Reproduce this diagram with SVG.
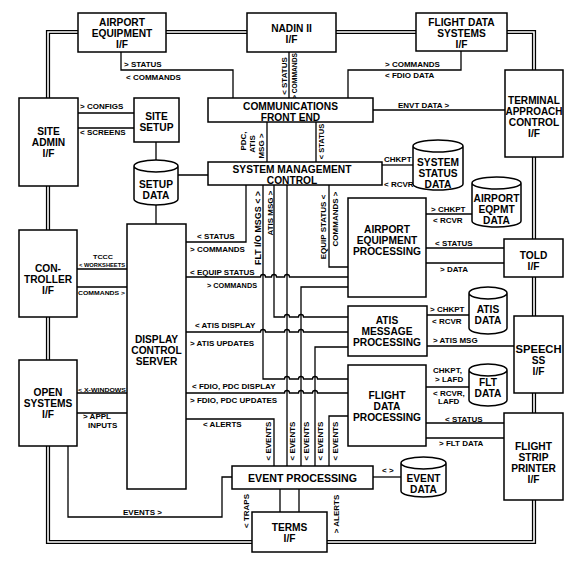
<svg xmlns="http://www.w3.org/2000/svg" width="580" height="561" viewBox="0 0 580 561">
<style>
.bx{fill:#fff;stroke:#000;stroke-width:1.5}
.ln{fill:none;stroke:#000;stroke-width:1.3}
.b1{fill:none;stroke:#000;stroke-width:4.2}
.b2{fill:none;stroke:#fff;stroke-width:1.6}
text{font-family:'Liberation Sans',Arial,Helvetica,sans-serif;font-weight:bold;fill:#000}
.t{font-size:10.2px;text-anchor:middle}
.l{font-size:8px}
.v{font-size:8px;text-anchor:middle}
.s{font-size:6px}
</style>
<rect width="580" height="561" fill="#fff"/>
<g id="border">
<path class="b1" d="M48 32 H534 V542 H48 Z"/>
<path class="b2" d="M48 32 H534 V542 H48 Z"/>
</g>
<g id="connectors">
<path class="ln" d="M121 52 V70 H233 V98"/>
<path class="ln" d="M289 52 V98"/>
<path class="ln" d="M461 51 V70 H348 V98"/>
<path class="ln" d="M373 110 H505"/>
<path class="ln" d="M267 122 V162 M316 122 V162"/>
<path class="ln" d="M78 113 H134 M78 128 H134"/>
<path class="ln" d="M156 142 V160 M178 175 H208 M156 205 V224"/>
<path class="ln" d="M382 165 H413"/>
<path class="ln" d="M426 214 H472"/>
<path class="ln" d="M426 248 H504 M426 263 H504"/>
<path class="ln" d="M427 315 H469 M427 346 H514"/>
<path class="ln" d="M426 387 H469"/>
<path class="ln" d="M426 423 H504 M426 438 H504"/>
<path class="ln" d="M373 477 H401"/>
<path class="ln" d="M280 489 V512 M299 489 V512"/>
<path class="ln" d="M77 269 H127 M77 287 H127"/>
<path class="ln" d="M77 393 H127 M77 413 H127"/>
<path class="ln" d="M68 446 V517 H222 V477 H232"/>
<path class="ln" d="M246 185 V242 H186"/>
<path class="ln" d="M186 277 H260.5 A2.5 2.5 0 0 1 265.5 277 H271.5 A2.5 2.5 0 0 1 276.5 277 H284.5 A2.5 2.5 0 0 1 289.5 277 H348"/>
<path class="ln" d="M263 185 V379 H284.5 A2.5 2.5 0 0 1 289.5 379 H298.5 A2.5 2.5 0 0 1 303.5 379 H312.5 A2.5 2.5 0 0 1 317.5 379 H348"/>
<path class="ln" d="M274 185 V317 H284.5 A2.5 2.5 0 0 1 289.5 317 H298.5 A2.5 2.5 0 0 1 303.5 317 H348"/>
<path class="ln" d="M287 185 V466"/>
<path class="ln" d="M329 185 V267 H348"/>
<path class="ln" d="M348 287 H301 V466"/>
<path class="ln" d="M186 332 H260.5 A2.5 2.5 0 0 1 265.5 332 H284.5 A2.5 2.5 0 0 1 289.5 332 H298.5 A2.5 2.5 0 0 1 303.5 332 H348"/>
<path class="ln" d="M348 347 H315 V466"/>
<path class="ln" d="M186 393 H284.5 A2.5 2.5 0 0 1 289.5 393 H298.5 A2.5 2.5 0 0 1 303.5 393 H312.5 A2.5 2.5 0 0 1 317.5 393 H348"/>
<path class="ln" d="M348 416 H329 V466"/>
<path class="ln" d="M186 419 H274 V466"/>
</g>
<g id="connector-labels">
<text class="l" x="124" y="67">&gt; STATUS</text>
<text class="l" x="126" y="80">&lt; COMMANDS</text>
<text class="l" x="385" y="67">&gt; COMMANDS</text>
<text class="l" x="385" y="77.5">&lt; FDIO DATA</text>
<text class="l" x="398" y="108">ENVT DATA &gt;</text>
<text class="l" x="80" y="109">&gt; CONFIGS</text>
<text class="l" x="80" y="135">&lt; SCREENS</text>
<text class="l" x="384" y="162">CHKPT &gt;</text>
<text class="l" x="384" y="187">&lt; RCVR</text>
<text class="l" x="431" y="212">&gt; CHKPT</text>
<text class="l" x="433" y="223">&lt; RCVR</text>
<text class="l" x="435" y="246">&lt; STATUS</text>
<text class="l" x="440" y="272">&gt; DATA</text>
<text class="l" x="430" y="312">&gt; CHKPT</text>
<text class="l" x="432" y="324">&lt; RCVR</text>
<text class="l" x="433" y="343">&gt; ATIS MSG</text>
<text class="l" x="433" y="373">CHKPT,</text>
<text class="l" x="435" y="382">&gt; LAFD</text>
<text class="l" x="433" y="396">&lt; RCVR,</text>
<text class="l" x="438" y="404">LAFD</text>
<text class="l" x="445" y="422">&lt; STATUS</text>
<text class="l" x="439" y="446">&gt; FLT DATA</text>
<text class="l" x="382" y="473">&lt; &gt;</text>
<text class="l" x="197" y="239">&lt; STATUS</text>
<text class="l" x="190" y="252">&gt; COMMANDS</text>
<text class="l" x="190" y="275">&lt; EQUIP STATUS</text>
<text class="l" x="207" y="288" textLength="50" lengthAdjust="spacingAndGlyphs">&gt; COMMANDS</text>
<text class="l" x="195" y="328">&lt; ATIS DISPLAY</text>
<text class="l" x="190" y="346">&gt; ATIS UPDATES</text>
<text class="l" x="192" y="389">&lt; FDIO, PDC DISPLAY</text>
<text class="l" x="190" y="403">&gt; FDIO, PDC UPDATES</text>
<text class="l" x="203" y="427">&lt; ALERTS</text>
<text class="s" x="93" y="259" textLength="20" lengthAdjust="spacingAndGlyphs">TCCC</text>
<text class="s" x="79" y="267" textLength="46" lengthAdjust="spacingAndGlyphs">&lt; WORKSHEETS</text>
<text class="s" x="78" y="295" textLength="47" lengthAdjust="spacingAndGlyphs">COMMANDS &gt;</text>
<text class="s" x="78" y="391.5" textLength="48" lengthAdjust="spacingAndGlyphs">&lt; X-WINDOWS</text>
<text class="l" x="83" y="419">&gt; APPL</text>
<text class="l" x="88" y="428">INPUTS</text>
<text class="l" x="123" y="514.5">EVENTS &gt;</text>
<text class="v" transform="translate(287,76) rotate(-90)">&lt; STATUS</text>
<text class="v" transform="translate(297,76) rotate(-90)" style="font-size:7px" textLength="46" lengthAdjust="spacingAndGlyphs">&gt; COMMANDS</text>
<text class="v" transform="translate(245.5,141) rotate(-90)">PDC,</text>
<text class="v" transform="translate(254.5,144) rotate(-90)">ATIS</text>
<text class="v" transform="translate(264,146) rotate(-90)">MSG &gt;</text>
<text class="v" transform="translate(323.5,141.5) rotate(-90)" style="font-size:7.5px">&lt; STATUS</text>
<text class="v" transform="translate(261,228) rotate(-90)" style="font-size:8.5px" textLength="74" lengthAdjust="spacingAndGlyphs">FLT I/O MSGS &lt; &gt;</text>
<text class="v" transform="translate(272.5,213) rotate(-90)">ATIS MSG &gt;</text>
<text class="v" transform="translate(326,227) rotate(-90)">EQUIP STATUS &lt;</text>
<text class="v" transform="translate(338,219) rotate(-90)">COMMANDS &gt;</text>
<text class="v" transform="translate(271,441) rotate(-90)">&lt; EVENTS</text>
<text class="v" transform="translate(295,441) rotate(-90)">&lt; EVENTS</text>
<text class="v" transform="translate(309,441) rotate(-90)">&lt; EVENTS</text>
<text class="v" transform="translate(323,441) rotate(-90)">&lt; EVENTS</text>
<text class="v" transform="translate(337.5,441) rotate(-90)">&lt; EVENTS</text>
<text class="v" transform="translate(249,511) rotate(-90)">&lt; TRAPS</text>
<text class="v" transform="translate(338.5,514) rotate(-90)">&gt; ALERTS</text>
</g>
<g id="airport-equipment-if"><rect class="bx" x="78" y="13" width="88" height="39"/><text class="t" x="122" y="26">AIRPORT</text><text class="t" x="122" y="37">EQUIPMENT</text><text class="t" x="122" y="48">I/F</text></g>
<g id="nadin-if"><rect class="bx" x="247" y="13" width="89" height="39"/><text class="t" x="291.5" y="32">NADIN II</text><text class="t" x="291.5" y="43">I/F</text></g>
<g id="flight-data-systems-if"><rect class="bx" x="416" y="13" width="91" height="38"/><text class="t" x="461.5" y="26">FLIGHT DATA</text><text class="t" x="461.5" y="37">SYSTEMS</text><text class="t" x="461.5" y="48">I/F</text></g>
<g id="terminal-approach-control-if"><rect class="bx" x="505" y="70" width="58" height="87"/><text class="t" x="534" y="104" textLength="52" lengthAdjust="spacingAndGlyphs">TERMINAL</text><text class="t" x="534" y="115" textLength="57" lengthAdjust="spacingAndGlyphs">APPROACH</text><text class="t" x="534" y="126">CONTROL</text><text class="t" x="534" y="137">I/F</text></g>
<g id="site-admin-if"><rect class="bx" x="19" y="98" width="59" height="88"/><text class="t" x="48.5" y="135">SITE</text><text class="t" x="48.5" y="146">ADMIN</text><text class="t" x="48.5" y="157">I/F</text></g>
<g id="site-setup"><rect class="bx" x="134" y="98" width="45" height="44"/><text class="t" x="156.5" y="120">SITE</text><text class="t" x="156.5" y="131">SETUP</text></g>
<g id="setup-data"><path class="bx" d="M134 166 A22 6 0 0 1 178 166 V199 A22 6 0 0 1 134 199 Z M134 166 A22 6 0 0 0 178 166"/><text class="t" x="156" y="188">SETUP</text><text class="t" x="156" y="199">DATA</text></g>
<g id="communications-front-end"><rect class="bx" x="208" y="98" width="165" height="24"/><text class="t" x="290.5" y="110">COMMUNICATIONS</text><text class="t" x="290.5" y="121">FRONT END</text></g>
<g id="system-management-control"><rect class="bx" x="208" y="162" width="174" height="23"/><text class="t" x="292" y="173">SYSTEM MANAGEMENT</text><text class="t" x="292" y="184">CONTROL</text></g>
<g id="system-status-data"><path class="bx" d="M413 146 A25 6 0 0 1 463 146 V184 A25 6 0 0 1 413 184 Z M413 146 A25 6 0 0 0 463 146"/><text class="t" x="438" y="166">SYSTEM</text><text class="t" x="438" y="177">STATUS</text><text class="t" x="438" y="188">DATA</text></g>
<g id="airport-eqpmt-data"><path class="bx" d="M472 183 A24.5 6 0 0 1 521 183 V221 A24.5 6 0 0 1 472 221 Z M472 183 A24.5 6 0 0 0 521 183"/><text class="t" x="496.5" y="202">AIRPORT</text><text class="t" x="496.5" y="213">EQPMT</text><text class="t" x="496.5" y="224">DATA</text></g>
<g id="airport-equipment-processing"><rect class="bx" x="348" y="198" width="78" height="99"/><text class="t" x="387" y="233">AIRPORT</text><text class="t" x="387" y="244">EQUIPMENT</text><text class="t" x="387" y="255">PROCESSING</text></g>
<g id="told-if"><rect class="bx" x="504" y="239" width="59" height="38"/><text class="t" x="533.5" y="259">TOLD</text><text class="t" x="533.5" y="270">I/F</text></g>
<g id="atis-data"><path class="bx" d="M469 293 A19 6 0 0 1 507 293 V328 A19 6 0 0 1 469 328 Z M469 293 A19 6 0 0 0 507 293"/><text class="t" x="488" y="313">ATIS</text><text class="t" x="488" y="324">DATA</text></g>
<g id="atis-message-processing"><rect class="bx" x="348" y="306" width="79" height="50"/><text class="t" x="387" y="324">ATIS</text><text class="t" x="387" y="335">MESSAGE</text><text class="t" x="387" y="346">PROCESSING</text></g>
<g id="speech-ss-if"><rect class="bx" x="514" y="316" width="49" height="77"/><text class="t" x="538.5" y="353" textLength="46" lengthAdjust="spacingAndGlyphs">SPEECH</text><text class="t" x="538.5" y="364">SS</text><text class="t" x="538.5" y="375">I/F</text></g>
<g id="flt-data"><path class="bx" d="M469 370 A19 6 0 0 1 507 370 V400 A19 6 0 0 1 469 400 Z M469 370 A19 6 0 0 0 507 370"/><text class="t" x="488" y="386">FLT</text><text class="t" x="488" y="397">DATA</text></g>
<g id="flight-data-processing"><rect class="bx" x="348" y="365" width="78" height="81"/><text class="t" x="387" y="399">FLIGHT</text><text class="t" x="387" y="410">DATA</text><text class="t" x="387" y="421">PROCESSING</text></g>
<g id="flight-strip-printer-if"><rect class="bx" x="504" y="413" width="59" height="87"/><text class="t" x="533.5" y="450">FLIGHT</text><text class="t" x="533.5" y="461">STRIP</text><text class="t" x="533.5" y="472">PRINTER</text><text class="t" x="533.5" y="483">I/F</text></g>
<g id="event-data"><path class="bx" d="M401 463 A22.5 6 0 0 1 446 463 V491 A22.5 6 0 0 1 401 491 Z M401 463 A22.5 6 0 0 0 446 463"/><text class="t" x="423.5" y="482">EVENT</text><text class="t" x="423.5" y="493">DATA</text></g>
<g id="event-processing"><rect class="bx" x="232" y="466" width="141" height="23"/><text class="t" x="302.5" y="482" style="font-size:10.6px">EVENT PROCESSING</text></g>
<g id="terms-if"><rect class="bx" x="252" y="512" width="75" height="40"/><text class="t" x="289.5" y="531">TERMS</text><text class="t" x="289.5" y="542">I/F</text></g>
<g id="display-control-server"><rect class="bx" x="127" y="224" width="59" height="265"/><text class="t" x="156.5" y="343">DISPLAY</text><text class="t" x="156.5" y="354">CONTROL</text><text class="t" x="156.5" y="365">SERVER</text></g>
<g id="controller-if"><rect class="bx" x="19" y="230" width="58" height="87"/><text class="t" x="48" y="272">CON-</text><text class="t" x="48" y="283">TROLLER</text><text class="t" x="48" y="294">I/F</text></g>
<g id="open-systems-if"><rect class="bx" x="19" y="360" width="58" height="86"/><text class="t" x="48" y="396">OPEN</text><text class="t" x="48" y="407">SYSTEMS</text><text class="t" x="48" y="418">I/F</text></g>
</svg>
